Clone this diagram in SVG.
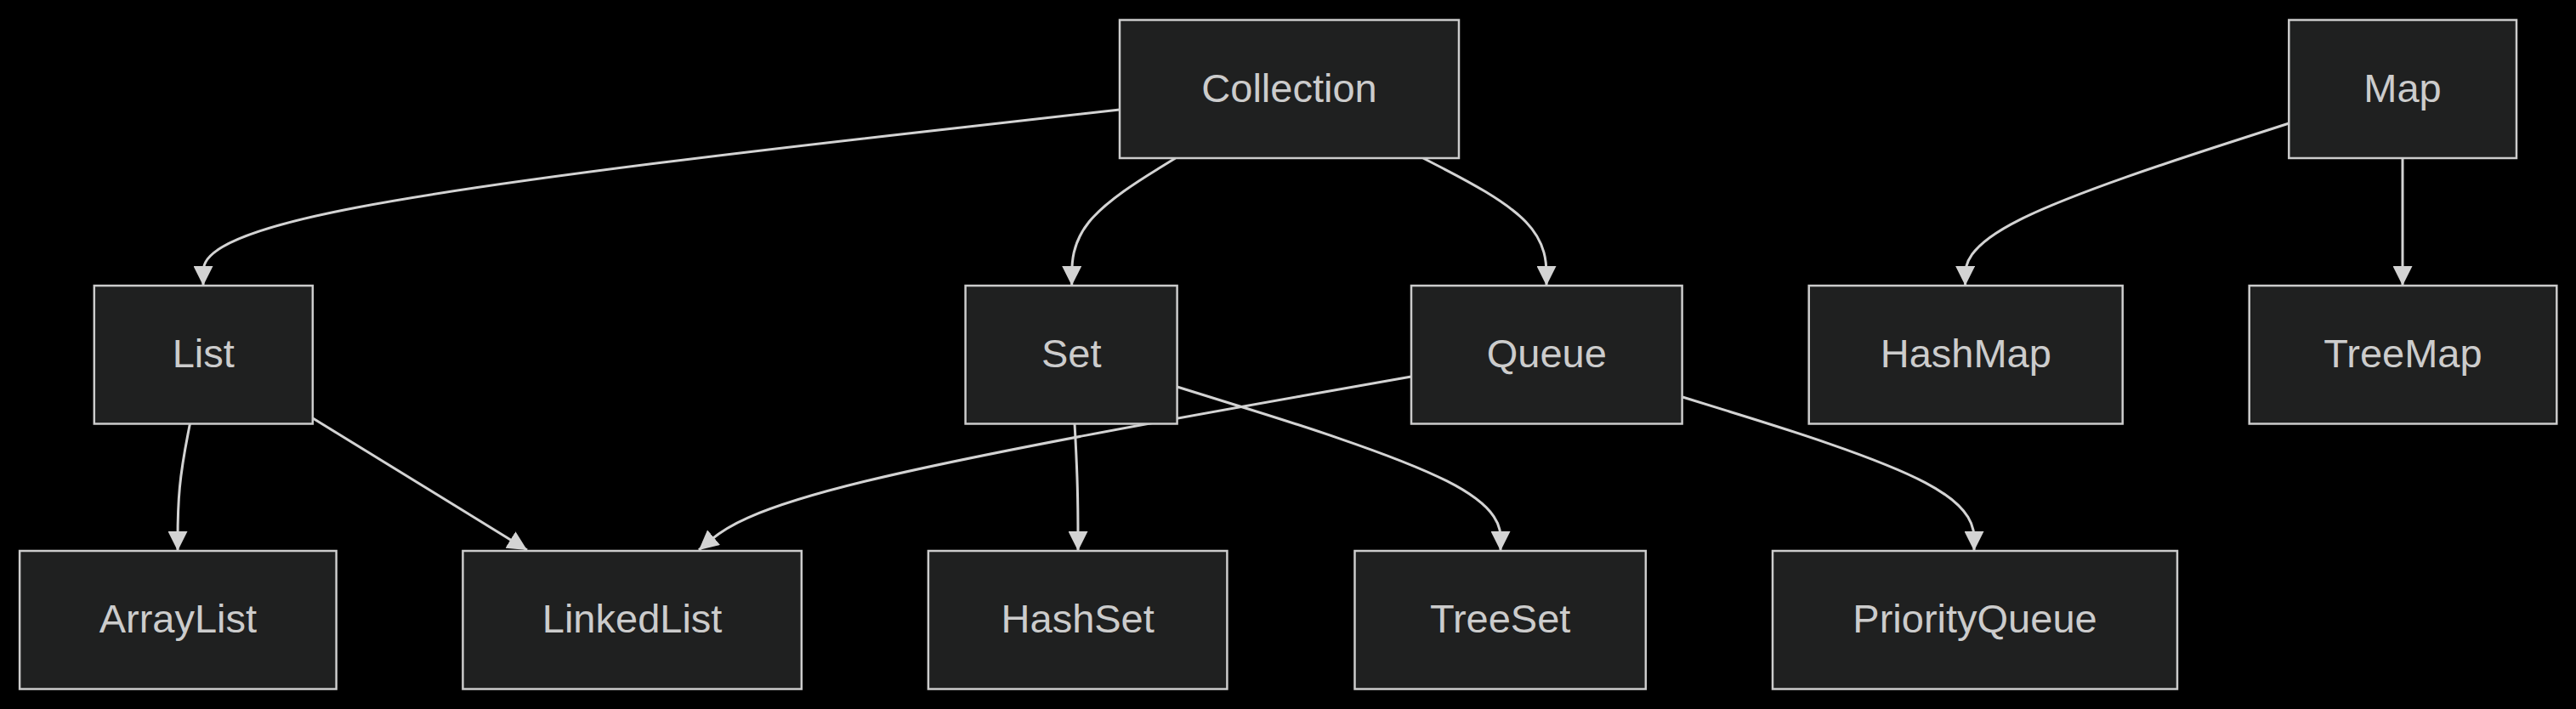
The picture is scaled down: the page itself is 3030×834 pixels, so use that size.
<svg xmlns="http://www.w3.org/2000/svg" width="3030" height="834" viewBox="0 0 3030 834">
<style>
.bg{fill:#000000}
.node rect{fill:#1f2020;stroke:#cccccc;stroke-width:2.5}
.node text{fill:#cccccc;font-family:"Liberation Sans",Arial,sans-serif;font-size:47px;text-anchor:middle}
.edge{fill:none;stroke:#d3d3d3;stroke-width:3;marker-end:url(#arrow)}
</style>
<defs>
<marker id="arrow" markerUnits="userSpaceOnUse" markerWidth="23" markerHeight="23" viewBox="0 0 10 10" refX="10" refY="5" orient="auto">
<path d="M0,0 L10,5 L0,10 z" fill="#d3d3d3"/>
</marker>
</defs>
<rect class="bg" x="0" y="0" width="3030" height="834"/>
<g id="connectors">
<path class="edge" d="M1317,129 L1137.3,149.2 C957.7,169.3 598.3,209.7 418.7,244.2 C239,278.7 239,307.3 239,321.7 L239,336"/>
<path class="edge" d="M1382.6,186 L1362.3,198.5 C1342,211 1301.3,236 1281,261 C1260.7,286 1260.7,311 1260.7,323.5 L1260.7,336"/>
<path class="edge" d="M1674,186 L1698.2,198.5 C1722.3,211 1770.7,236 1794.8,261 C1819,286 1819,311 1819,323.5 L1819,336"/>
<path class="edge" d="M2692.5,145 L2629,165.5 C2565.5,186 2438.6,227 2375,258.8 C2311.6,290.7 2311.6,313.3 2311.6,324.7 L2311.6,336"/>
<path class="edge" d="M2826,187 L2826,336"/>
<path class="edge" d="M223.4,498.5 L221,510.9 C218.6,523.3 213.8,548.2 211.4,573.1 C209,598 209,623 209,635.5 L209,648"/>
<path class="edge" d="M368,492 L620,647"/>
<path class="edge" d="M1660,443 L1534.2,465.3 C1408.3,487.7 1156.7,532.3 1017,566.3 C877.3,600.3 849.7,623.7 835.8,635.3 L822,647"/>
<path class="edge" d="M1264,498.5 L1264.7,510.9 C1265.3,523.3 1266.7,548.2 1267.3,573.1 C1268,598 1268,623 1268,635.5 L1268,648"/>
<path class="edge" d="M1384.6,455 L1448,474.7 C1511.4,494.3 1638.2,533.7 1701.6,565.7 C1765,597.7 1765,622.3 1765,634.7 L1765,648"/>
<path class="edge" d="M1979,467 L2036.2,484.7 C2093.3,502.3 2207.7,537.7 2264.8,567.8 C2322,598 2322,623 2322,635.5 L2322,648"/>
</g>
<g id="node-Collection" class="node"><rect x="1317" y="23.5" width="399" height="162.5"/><text x="1516.5" y="120">Collection</text></g>
<g id="node-Map" class="node"><rect x="2692.3" y="23.5" width="267.7" height="162.5"/><text x="2826" y="120">Map</text></g>
<g id="node-List" class="node"><rect x="110.8" y="336" width="257" height="162.5"/><text x="239.2" y="432">List</text></g>
<g id="node-Set" class="node"><rect x="1135.6" y="336" width="249" height="162.5"/><text x="1260.2" y="432">Set</text></g>
<g id="node-Queue" class="node"><rect x="1660" y="336" width="318.6" height="162.5"/><text x="1819.3" y="432">Queue</text></g>
<g id="node-HashMap" class="node"><rect x="2127.7" y="336" width="369" height="162.5"/><text x="2312.3" y="432">HashMap</text></g>
<g id="node-TreeMap" class="node"><rect x="2645.7" y="336" width="361.6" height="162.5"/><text x="2826.5" y="432">TreeMap</text></g>
<g id="node-ArrayList" class="node"><rect x="23.1" y="648" width="372.5" height="162.5"/><text x="209.4" y="744">ArrayList</text></g>
<g id="node-LinkedList" class="node"><rect x="544.4" y="648" width="398.4" height="162.5"/><text x="743.6" y="744">LinkedList</text></g>
<g id="node-HashSet" class="node"><rect x="1091.9" y="648" width="351.5" height="162.5"/><text x="1267.7" y="744">HashSet</text></g>
<g id="node-TreeSet" class="node"><rect x="1593.5" y="648" width="342.3" height="162.5"/><text x="1764.7" y="744">TreeSet</text></g>
<g id="node-PriorityQueue" class="node"><rect x="2085" y="648" width="476" height="162.5"/><text x="2323" y="744">PriorityQueue</text></g>
</svg>
